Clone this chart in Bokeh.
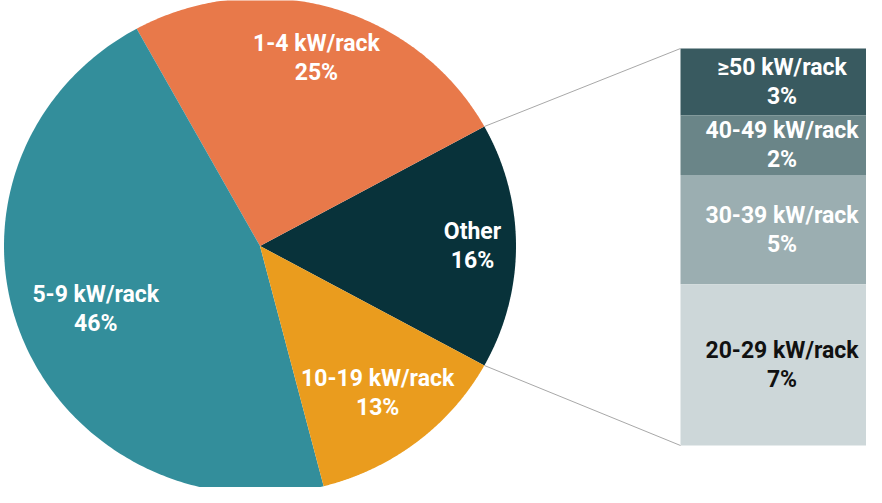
import numpy as np
from bokeh.plotting import figure
from bokeh.models import Range1d, ColumnDataSource
from bokeh.core.properties import value
from bokeh.embed import file_html
from bokeh.resources import INLINE

# ---- data ----
pie_categories = ["Other", "1-4 kW/rack", "5-9 kW/rack", "10-19 kW/rack"]
pie_values = [16, 25, 46, 13]
pie_labels = ["16%", "25%", "46%", "13%"]

other_categories = ["≥50 kW/rack", "40-49 kW/rack", "30-39 kW/rack", "20-29 kW/rack"]
other_values = [2.7, 2.4, 4.4, 6.5]
other_labels = ["3%", "2%", "5%", "7%"]

# ---- styles / layout ----
pie_colors = ["#08323A", "#E8794A", "#338E9B", "#EA9C1E"]
pie_text_colors = ["white", "white", "white", "white"]
label_radius = [0.83, 0.79, 0.69, 0.75]
bar_colors = ["#395A60", "#6A8588", "#9BAEB1", "#CDD7D9"]
bar_text_colors = ["white", "white", "white", "#111111"]

W, H = 866, 487
cx, cy = 259.5, 241.5
rx, ry = 256.0, 248.0
bar_left, bar_right = 680.0, 890.0
bar_top, bar_bottom = 439.0, 42.0
FONT = value("Roboto")
FS = "23px"
LINE_GAP = 14.5

p = figure(width=W, height=H, output_backend="svg", toolbar_location=None,
           x_range=Range1d(0, W), y_range=Range1d(0, H), min_border=0,
           x_axis_location=None, y_axis_location=None)
p.grid.visible = False
p.outline_line_color = None
p.background_fill_color = "white"
p.border_fill_color = "white"

# ---- pie (drawn as elliptical wedges) ----
total = float(sum(pie_values))
fracs = np.array(pie_values) / total * 2 * np.pi
starts = -fracs[0] / 2 + np.concatenate([[0], np.cumsum(fracs)[:-1]])
ends = starts + fracs
xs, ys = [], []
for s, e in zip(starts, ends):
    t = np.linspace(s, e, 200)
    xs.append(np.concatenate([[cx], cx + rx * np.cos(t), [cx]]))
    ys.append(np.concatenate([[cy], cy + ry * np.sin(t), [cy]]))
p.patches(xs, ys, fill_color=pie_colors, line_color=None)

mids = (starts + ends) / 2
lx = cx + rx * np.array(label_radius) * np.cos(mids)
ly = cy + ry * np.array(label_radius) * np.sin(mids)
src = ColumnDataSource(dict(x=lx, y1=ly + LINE_GAP, y2=ly - LINE_GAP,
                            name=pie_categories, pct=pie_labels, c=pie_text_colors))
for ycol, tcol in (("y1", "name"), ("y2", "pct")):
    p.text(x="x", y=ycol, text=tcol, source=src, text_color="c",
           text_font=FONT, text_font_style="bold", text_font_size=FS,
           text_align="center", text_baseline="middle")

# ---- stacked bar for "Other" ----
scale = (bar_top - bar_bottom) / float(sum(other_values))
tops = bar_top - scale * np.concatenate([[0], np.cumsum(other_values)[:-1]])
bottoms = tops - scale * np.array(other_values)
p.quad(left=bar_left, right=bar_right, top=tops, bottom=bottoms,
       fill_color=bar_colors, line_color=None)
bx = np.full(len(other_values), 781.5)
by = (tops + bottoms) / 2
bsrc = ColumnDataSource(dict(x=bx, y1=by + LINE_GAP, y2=by - LINE_GAP,
                             name=other_categories, pct=other_labels, c=bar_text_colors))
for ycol, tcol in (("y1", "name"), ("y2", "pct")):
    p.text(x="x", y=ycol, text=tcol, source=bsrc, text_color="c",
           text_font=FONT, text_font_style="bold", text_font_size=FS,
           text_align="center", text_baseline="middle")

# ---- connector lines ----
ex = cx + rx * np.cos([ends[0], starts[0]])
ey = cy + ry * np.sin([ends[0], starts[0]])
p.segment(x0=ex, y0=ey, x1=[bar_left, bar_left], y1=[bar_top, bar_bottom],
          line_color="#A8A8A8", line_width=1)

open("out.html", "w").write(file_html(p, INLINE))
